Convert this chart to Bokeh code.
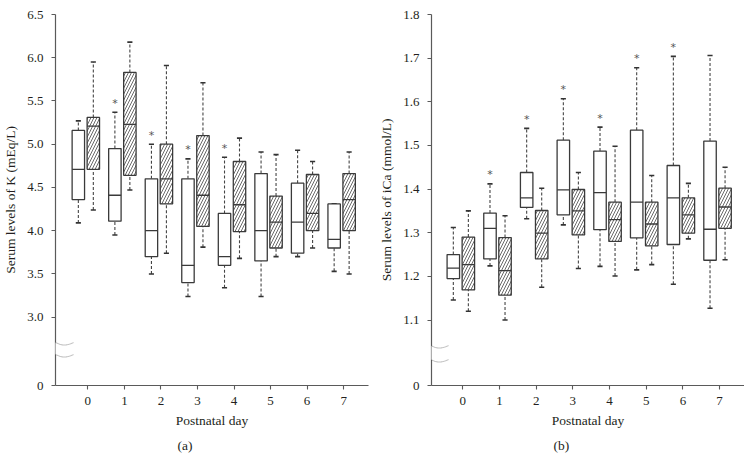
import numpy as np
from bokeh.plotting import figure
from bokeh.layouts import row
from bokeh.models import FixedTicker, PolyAnnotation, Title, PrintfTickFormatter
from bokeh.core.properties import value
from bokeh.embed import file_html
from bokeh.resources import INLINE

days = [0, 1, 2, 3, 4, 5, 6, 7]

# Panel (a): serum K (mEq/L); group 1 = open boxes, group 2 = hatched boxes
k1_low  = [4.09, 3.95, 3.50, 3.24, 3.34, 3.24, 3.70, 3.53]
k1_q1   = [4.36, 4.11, 3.70, 3.40, 3.60, 3.65, 3.74, 3.80]
k1_med  = [4.71, 4.41, 4.00, 3.60, 3.70, 4.00, 4.10, 3.90]
k1_q3   = [5.16, 4.95, 4.60, 4.60, 4.20, 4.66, 4.55, 4.31]
k1_high = [5.27, 5.37, 5.00, 4.83, 4.85, 4.91, 4.93, 4.31]
k1_sig  = [False, True, True, True, True, False, False, False]

k2_low  = [4.24, 4.47, 3.74, 3.81, 3.68, 3.70, 3.80, 3.50]
k2_q1   = [4.71, 4.64, 4.31, 4.05, 3.99, 3.80, 4.00, 4.00]
k2_med  = [5.21, 5.23, 4.60, 4.41, 4.30, 4.10, 4.20, 4.36]
k2_q3   = [5.31, 5.83, 5.00, 5.10, 4.80, 4.40, 4.65, 4.66]
k2_high = [5.95, 6.18, 5.91, 5.71, 5.07, 4.88, 4.80, 4.91]

# Panel (b): serum iCa (mmol/L)
c1_low  = [1.146, 1.224, 1.332, 1.318, 1.223, 1.215, 1.182, 1.127]
c1_q1   = [1.195, 1.240, 1.358, 1.341, 1.307, 1.288, 1.273, 1.237]
c1_med  = [1.219, 1.310, 1.380, 1.398, 1.392, 1.370, 1.380, 1.308]
c1_q3   = [1.250, 1.345, 1.438, 1.512, 1.487, 1.535, 1.454, 1.510]
c1_high = [1.312, 1.412, 1.539, 1.607, 1.542, 1.678, 1.704, 1.706]
c1_sig  = [False, True, True, True, True, True, True, False]

c2_low  = [1.120, 1.100, 1.175, 1.218, 1.201, 1.227, 1.286, 1.238]
c2_q1   = [1.169, 1.157, 1.240, 1.295, 1.280, 1.270, 1.299, 1.310]
c2_med  = [1.227, 1.213, 1.299, 1.350, 1.330, 1.320, 1.341, 1.359]
c2_q3   = [1.290, 1.289, 1.351, 1.399, 1.370, 1.370, 1.380, 1.402]
c2_high = [1.350, 1.339, 1.402, 1.438, 1.498, 1.431, 1.413, 1.450]

k_ticks = [3.0, 3.5, 4.0, 4.5, 5.0, 5.5, 6.0, 6.5]
c_ticks = [1.1, 1.2, 1.3, 1.4, 1.5, 1.6, 1.7, 1.8]
k_zero_pos = 2.21   # axis-break position standing for 0
c_zero_pos = 0.95

FONT = "Liberation Serif"
TXT = "#231f20"
LINE = "#3a3a3a"


def draw_group(p, xs, low, q1, med, q3, high, hatched, sig=None):
    w = 0.34
    cap = 0.07
    p.segment(xs, q3, xs, high, line_color="#444444", line_width=1.1, line_dash="3 2")
    p.segment(xs, low, xs, q1, line_color="#444444", line_width=1.1, line_dash="3 2")
    xl = [x - cap for x in xs]
    xr = [x + cap for x in xs]
    p.segment(xl, high, xr, high, line_color="#333333", line_width=1.6)
    p.segment(xl, low, xr, low, line_color="#333333", line_width=1.6)
    if hatched:
        p.vbar(x=xs, width=w, bottom=q1, top=q3, fill_color="white",
               line_color=LINE, line_width=1.3, hatch_pattern="/",
               hatch_color="#6a6a6a", hatch_scale=6.0, hatch_weight=1.0)
    else:
        p.vbar(x=xs, width=w, bottom=q1, top=q3, fill_color="white",
               line_color=LINE, line_width=1.3)
    p.segment([x - w / 2 for x in xs], med, [x + w / 2 for x in xs], med,
              line_color=LINE, line_width=1.3)
    if sig is not None:
        sx = [x for x, s in zip(xs, sig) if s]
        sy = [h for h, s in zip(high, sig) if s]
        p.text(sx, sy, text=["*"] * len(sx), text_align="center", text_baseline="middle",
               y_offset=-9, text_font=value("DejaVu Sans"), text_font_size="11px",
               text_color="#555555")


def make_panel(xr, yr, ticks, zero_pos, ylabel, tag, left_border, right_border,
               g1, g2, sig, wave_y, wave_x):
    p = figure(frame_width=313, frame_height=371, x_range=xr, y_range=yr,
               output_backend="svg", toolbar_location=None,
               min_border_left=left_border, min_border_right=right_border,
               min_border_top=14, min_border_bottom=10)
    p.outline_line_color = None
    p.xgrid.visible = False
    p.ygrid.visible = False

    x1 = [d - 0.26 for d in days]
    x2 = [d + 0.15 for d in days]
    draw_group(p, x1, *g1, hatched=False, sig=sig)
    draw_group(p, x2, *g2, hatched=True)

    for ax in (p.xaxis[0], p.yaxis[0]):
        ax.axis_line_color = "#5a5a5a"
        ax.axis_line_width = 1.2
        ax.major_tick_line_color = "#5a5a5a"
        ax.major_tick_line_width = 1.1
        ax.major_tick_in = 0
        ax.major_tick_out = 4
        ax.minor_tick_line_color = None
        ax.major_label_text_font = FONT
        ax.major_label_text_font_size = "13px"
        ax.major_label_text_color = TXT
        ax.axis_label_text_font = FONT
        ax.axis_label_text_font_size = "13.5px"
        ax.axis_label_text_font_style = "normal"
        ax.axis_label_text_color = TXT

    p.xaxis.ticker = FixedTicker(ticks=days)
    p.xaxis.axis_label = "Postnatal day"
    p.xaxis.major_label_standoff = 7
    p.xaxis.axis_label_standoff = 5

    p.yaxis.ticker = FixedTicker(ticks=[zero_pos] + ticks)
    p.yaxis.formatter = PrintfTickFormatter(format="%.1f")
    p.yaxis.major_label_overrides = {zero_pos: "0"}
    p.yaxis.major_label_standoff = 8
    p.yaxis.axis_label = ylabel
    p.yaxis.axis_label_standoff = 6

    t = Title(text=tag, align="left", offset=122, text_font=FONT,
              text_font_size="13.5px", text_font_style="normal", text_color=TXT)
    p.add_layout(t, "below")

    # axis break marks (frame-relative screen units)
    n = 40
    tt = np.linspace(0, 1, n)
    wx = list(wave_x[0] + (wave_x[1] - wave_x[0]) * tt)
    up = list(wave_y[0] + 2.5 * np.sin(2 * np.pi * tt))
    lo = list(wave_y[1] + 2.5 * np.sin(2 * np.pi * tt))
    gap = PolyAnnotation(xs=wx + wx[::-1], ys=up + lo[::-1], xs_units="screen",
                         ys_units="screen", fill_color="white", fill_alpha=1.0,
                         line_color=None)
    p.add_layout(gap)
    for yy in (up, lo):
        p.add_layout(PolyAnnotation(xs=wx + wx[::-1], ys=yy + yy[::-1], xs_units="screen",
                                    ys_units="screen", fill_alpha=0, line_color="#333333",
                                    line_width=1.1))
    return p


pa = make_panel((-0.885, 7.68), (k_zero_pos, 6.5), k_ticks, k_zero_pos,
                "Serum levels of K (mEq/L)", "(a)", 55, 8,
                (k1_low, k1_q1, k1_med, k1_q3, k1_high),
                (k2_low, k2_q1, k2_med, k2_q3, k2_high), k1_sig,
                (43, 31), (-18, 18))
pb = make_panel((-0.855, 7.68), (c_zero_pos, 1.8), c_ticks, c_zero_pos,
                "Serum levels of iCa (mmol/L)", "(b)", 55, 0,
                (c1_low, c1_q1, c1_med, c1_q3, c1_high),
                (c2_low, c2_q1, c2_med, c2_q3, c2_high), c1_sig,
                (40, 26), (-19, 17))

layout = row(pa, pb)
open("out.html", "w").write(file_html(layout, INLINE))
